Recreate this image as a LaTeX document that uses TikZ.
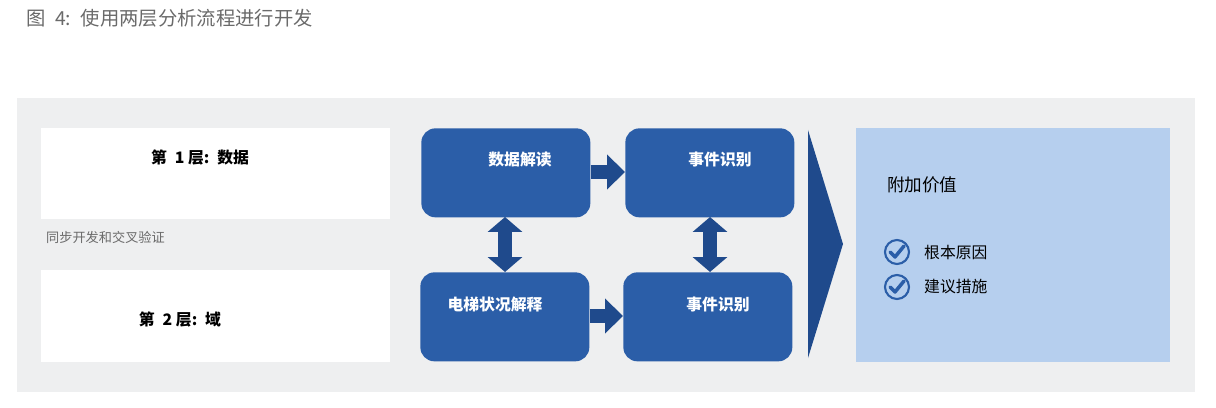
\documentclass[tikz,border=0pt]{standalone}
\usepackage{fontspec}
\setmainfont{Noto Sans CJK SC}
\usetikzlibrary{arrows.meta}
\definecolor{bgGray}{HTML}{EEEFF0}
\definecolor{boxBlue}{HTML}{2B5EA8}
\definecolor{darkBlue}{HTML}{1F4A8C}
\definecolor{panelBlue}{HTML}{B6CFEE}
\definecolor{capGray}{HTML}{6A6A6A}

\begin{document}
\begin{tikzpicture}[
        x=0.02cm, y=-0.02cm,
        % define styles
        layer/.style={
            draw=none, fill=white, anchor=north west, inner sep=0pt
        },
        stage/.style={
            fill=boxBlue, rounded corners=8pt, anchor=north west,
            minimum width=3.38cm, minimum height=1.78cm, inner sep=0pt
        },
        stagetext/.style={
            text=white, font=\bfseries\fontsize{9}{11}\selectfont
        },
        flow/.style={
            darkBlue, line width=0.28cm,
            -{Triangle[width=0.68cm,length=0.36cm]}
        },
        sync/.style={
            darkBlue, line width=0.28cm,
            {Triangle[width=0.68cm,length=0.3cm]}-{Triangle[width=0.68cm,length=0.3cm]}
        },
        checkmark/.style={
            draw=boxBlue, line width=1.2pt, circle, minimum size=0.48cm, inner sep=0pt
        }
    ]
    \useasboundingbox (0,0) rectangle (1216,408);

    % caption
    \node[anchor=west, text=capGray, font=\fontsize{11}{13}\selectfont] (cap) at (20,18)
        {图\enspace 4:\enspace 使用两层分析流程进行开发};

    % background
    \fill[bgGray] (17,98) rectangle (1195,392);

    % left layer boxes
    \node[layer, minimum width=6.98cm, minimum height=1.82cm] (l1) at (41,128) {};
    \node[font=\bfseries\fontsize{9}{11}\selectfont] (l1t) at (200,158) {第\enspace 1 层:\enspace 数据};
    \node[anchor=west, text=capGray, font=\fontsize{7.5}{9}\selectfont] (syn) at (40,237) {同步开发和交叉验证};
    \node[layer, minimum width=6.98cm, minimum height=1.84cm] (l2) at (41,270) {};
    \node[font=\bfseries\fontsize{9}{11}\selectfont] (l2t) at (180,320) {第\enspace 2 层:\enspace 域};

    % blue stage boxes
    \node[stage] (d1) at (421,128) {};
    \node[stage] (e1) at (625,128) {};
    \node[stage] (d2) at (420,272) {};
    \node[stage] (e2) at (623,272) {};
    \node[stagetext] (d1t) at (520,160) {数据解读};
    \node[stagetext] (e1t) at (720,160) {事件识别};
    \node[stagetext] (d2t) at (495,305) {电梯状况解释};
    \node[stagetext] (e2t) at (718,305) {事件识别};

    % arrows between stages
    \draw[flow] (d1.east |- 0,172) -- (e1.west |- 0,172);
    \draw[flow] (d2.east |- 0,316) -- (e2.west |- 0,316);
    \draw[sync] (505,217) -- (505,272);
    \draw[sync] (710,217) -- (710,272);

    % big chevron
    \fill[darkBlue] (808,130) -- (843,244) -- (808,358) -- cycle;

    % result panel
    \fill[panelBlue] (856,128) rectangle (1170,362);
    \node[anchor=west, font=\fontsize{10}{12}\selectfont] (val) at (881,185) {附加价值};
    \foreach \yy/\txt in {252/根本原因, 287/建议措施} {
        \node[checkmark] (c\yy) at (897,\yy) {};
        \draw[boxBlue, line width=2pt, line cap=round, line join=round]
            (890,\yy) -- (895,\yy+5) -- (904,\yy-6);
        \node[anchor=west, font=\fontsize{9}{11}\selectfont] (t\yy) at (918,\yy) {\txt};
    }
\end{tikzpicture}
\end{document}
